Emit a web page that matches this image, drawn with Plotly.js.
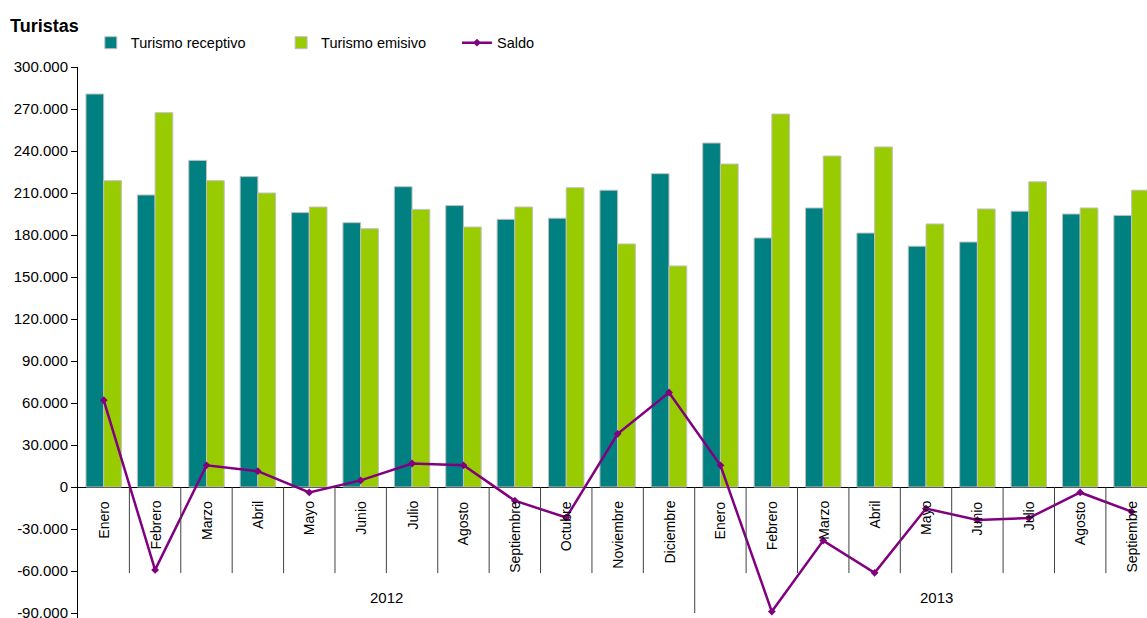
<!DOCTYPE html>
<html>
<head>
<meta charset="utf-8">
<script src="https://cdn.plot.ly/plotly-3.0.1.min.js"></script>
<style>html,body{margin:0;padding:0;background:#fff;}#chart{width:1147px;height:618px;}</style>
</head>
<body>
<div id="chart"></div>
<script>
// ---- Data ----
var years = ['2012', '2013'];
var months2012 = ['Enero','Febrero','Marzo','Abril','Mayo','Junio','Julio','Agosto','Septiembre','Octubre','Noviembre','Diciembre'];
var months2013 = ['Enero','Febrero','Marzo','Abril','Mayo','Junio','Julio','Agosto','Septiembre'];
var receptivo2012 = [280700, 208600, 233300, 221700, 196000, 188800, 214500, 201000, 191200, 192000, 212000, 223800];
var emisivo2012   = [218800, 267400, 218800, 210000, 200000, 184500, 198300, 185700, 200000, 213800, 173600, 157900];
var saldo2012     = [62000, -59200, 15500, 11300, -3900, 4700, 16800, 15500, -9800, -21800, 38000, 67500];
var receptivo2013 = [245700, 177900, 199300, 181400, 172000, 175000, 197000, 195000, 194000];
var emisivo2013   = [230700, 266400, 236400, 242900, 187900, 198600, 218000, 199300, 212000];
var saldo2013     = [15500, -89000, -38300, -61300, -15400, -23600, -22200, -3900, -17600];
var yTickVals = [-90000,-60000,-30000,0,30000,60000,90000,120000,150000,180000,210000,240000,270000,300000];
var yTickText = ['-90.000','-60.000','-30.000','0','30.000','60.000','90.000','120.000','150.000','180.000','210.000','240.000','270.000','300.000'];

// ---- Build ----
var months = months2012.concat(months2013);
var xcats = months2012.map(function(m){return years[0]+' '+m;}).concat(months2013.map(function(m){return years[1]+' '+m;}));
var receptivo = receptivo2012.concat(receptivo2013);
var emisivo = emisivo2012.concat(emisivo2013);
var saldo = saldo2012.concat(saldo2013);

var FONT = '"Liberation Sans", Arial, sans-serif';

var traces = [
  {type:'bar', name:'Turismo receptivo', x:xcats, y:receptivo, showlegend:true,
   marker:{color:'#008080', line:{color:'#c0c0c0', width:1}}, legend:'legend'},
  {type:'bar', name:'Turismo emisivo', x:xcats, y:emisivo, showlegend:true,
   marker:{color:'#99cc00', line:{color:'#c0c0c0', width:1}}, legend:'legend2'},
  {type:'scatter', mode:'lines+markers', name:'Saldo', x:xcats, y:saldo, showlegend:true,
   line:{color:'#800080', width:2.5}, marker:{symbol:'diamond', size:6, color:'#800080'}, legend:'legend3'}
];

var annotations = [];
var shapes = [];
for (var i = 0; i < months.length; i++) {
  annotations.push({x:i, y:0, xref:'x', yref:'y', text:months[i], textangle:-90,
    showarrow:false, xanchor:'center', yanchor:'top', yshift:-12,
    font:{family:FONT, size:14, color:'#000'}});
}
for (var j = 0; j < months.length - 1; j++) {
  var yearEnd = (j === months2012.length - 1);
  shapes.push({type:'line', xref:'x', yref:'y', x0:j+0.5, x1:j+0.5, y0:0, y1: yearEnd ? -90000 : -61500,
    line:{color:'#404040', width:1}});
}
annotations.push({x:(months2012.length-1)/2, y:-79000, xref:'x', yref:'y', text:years[0], showarrow:false,
  xanchor:'center', yanchor:'middle', font:{family:FONT, size:15, color:'#000'}});
annotations.push({x:16.2, y:-79000, xref:'x', yref:'y', text:years[1], showarrow:false,
  xanchor:'center', yanchor:'middle', font:{family:FONT, size:15, color:'#000'}});

var legendBase = {orientation:'h', yanchor:'middle', xanchor:'left', y:1.044, visible:true,
  font:{family:FONT, size:14.5, color:'#000'}, bgcolor:'rgba(0,0,0,0)', itemwidth:30};

var layout = {
  width:1147, height:618,
  margin:{l:78, r:0, t:67, b:0},
  showlegend:true,
  paper_bgcolor:'#fff', plot_bgcolor:'#fff',
  font:{family:FONT, size:15, color:'#000'},
  title:{text:'<b>Turistas</b>', x:10/1147, xref:'container', xanchor:'left', y:1-26/618, yanchor:'middle',
    font:{family:FONT, size:18, color:'#000'}},
  barmode:'group', bargap:0.31, bargroupgap:0,
  xaxis:{type:'category', range:[-0.5, 20.3], showticklabels:false, ticks:'', showgrid:false, zeroline:false, showline:false},
  yaxis:{range:[-93570, 300000], tickvals:yTickVals, ticktext:yTickText, ticks:'outside', ticklen:6,
    ticklabeloverflow:'allow',
    tickcolor:'#000', showline:true, linecolor:'#000', linewidth:1, showgrid:false,
    zeroline:true, zerolinecolor:'#000', zerolinewidth:1, tickfont:{family:FONT, size:15, color:'#000'}},
  legend: Object.assign({}, legendBase, {x:0.012}),
  legend2: Object.assign({}, legendBase, {x:0.19}),
  legend3: Object.assign({}, legendBase, {x:0.3545}),
  annotations:annotations,
  shapes:shapes,
  hovermode:false
};

Plotly.newPlot('chart', traces, layout, {staticPlot:true});
</script>
</body>
</html>
